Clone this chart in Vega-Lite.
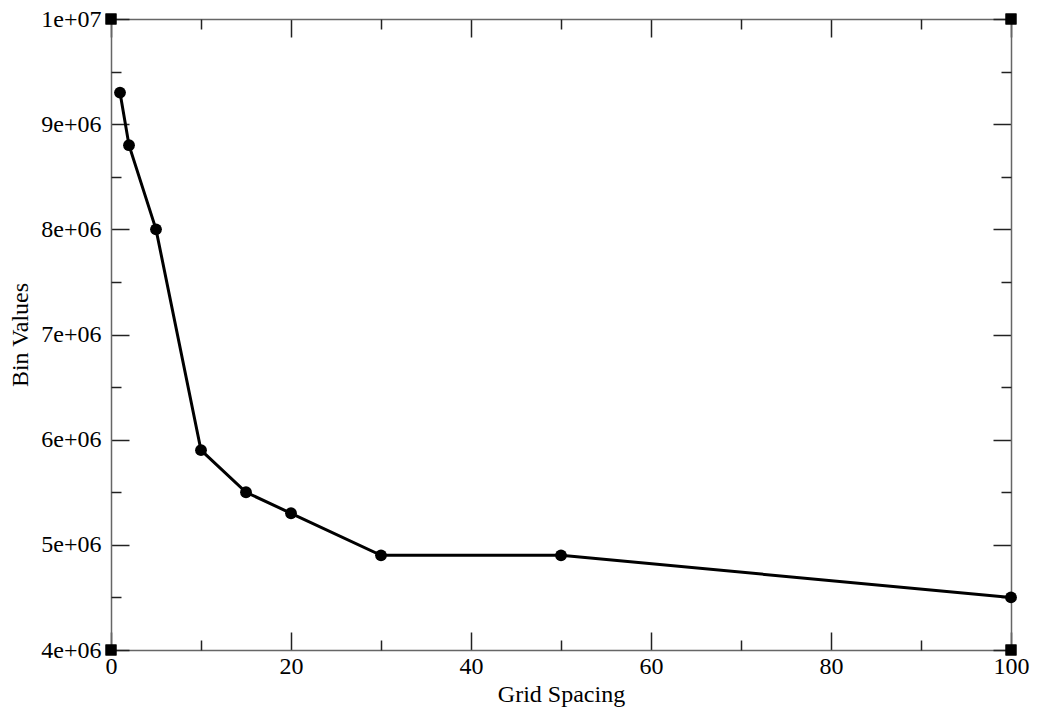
{
  "$schema": "https://vega.github.io/schema/vega-lite/v6.json",
  "width": 900,
  "height": 631,
  "autosize": {"type": "none"},
  "padding": {"left": 111, "top": 19, "right": 28, "bottom": 67},
  "background": "white",
  "config": {
    "view": {"stroke": null},
    "font": "Liberation Serif",
    "axis": {
      "grid": false,
      "domainColor": "#666666",
      "domainWidth": 1.5,
      "tickColor": "#222222",
      "tickWidth": 1.5,
      "labelFont": "Liberation Serif",
      "titleFont": "Liberation Serif",
      "labelFontSize": 24,
      "titleFontSize": 24,
      "labelColor": "#000000",
      "titleColor": "#000000",
      "titleFontWeight": "normal"
    }
  },
  "datasets": {
    "series": [
      {"spacing": 1, "bins": 9300000},
      {"spacing": 2, "bins": 8800000},
      {"spacing": 5, "bins": 8000000},
      {"spacing": 10, "bins": 5900000},
      {"spacing": 15, "bins": 5500000},
      {"spacing": 20, "bins": 5300000},
      {"spacing": 30, "bins": 4900000},
      {"spacing": 50, "bins": 4900000},
      {"spacing": 100, "bins": 4500000}
    ],
    "corners": [
      {"spacing": 0, "bins": 4000000},
      {"spacing": 0, "bins": 10000000},
      {"spacing": 100, "bins": 4000000},
      {"spacing": 100, "bins": 10000000}
    ]
  },
  "layer": [
    {
      "data": {"name": "series"},
      "mark": {"type": "line", "color": "black", "strokeWidth": 3},
      "encoding": {
        "x": {
          "field": "spacing", "type": "quantitative",
          "scale": {"domain": [0, 100], "nice": false, "zero": false},
          "axis": {"orient": "bottom", "values": [0, 20, 40, 60, 80, 100], "tickSize": -18, "labelPadding": 22, "title": "Grid Spacing", "titlePadding": 4, "labelFlush": false, "labelOverlap": false, "labelFont": "Liberation Serif", "labelFontSize": 24, "titleFont": "Liberation Serif"}
        },
        "y": {
          "field": "bins", "type": "quantitative",
          "scale": {"domain": [4000000, 10000000], "nice": false, "zero": false},
          "axis": {"orient": "left", "values": [4000000, 5000000, 6000000, 7000000, 8000000, 9000000, 10000000], "tickSize": -18, "labelPadding": 28, "title": "Bin Values", "titlePadding": 8, "labelFlush": false, "labelOverlap": false, "labelFont": "Liberation Serif", "labelFontSize": 24, "titleFont": "Liberation Serif",
            "labelExpr": "datum.value >= 10000000 ? '1e+07' : format(datum.value / 1000000, 'd') + 'e+06'"}
        }
      }
    },
    {
      "data": {"name": "series"},
      "mark": {"type": "point", "filled": true, "color": "black", "opacity": 1, "size": 140, "shape": "circle"},
      "encoding": {
        "x": {
          "field": "spacing", "type": "quantitative",
          "axis": {"orient": "bottom", "values": [10, 30, 50, 70, 90], "tickSize": -10, "labels": false, "domain": false, "title": null}
        },
        "y": {
          "field": "bins", "type": "quantitative",
          "axis": {"orient": "left", "values": [4500000, 5500000, 6500000, 7500000, 8500000, 9500000], "tickSize": -10, "labels": false, "domain": false, "title": null}
        }
      }
    },
    {
      "data": {"name": "corners"},
      "mark": {"type": "point", "filled": true, "color": "black", "opacity": 1, "size": 121, "shape": "square"},
      "encoding": {
        "x": {
          "field": "spacing", "type": "quantitative",
          "axis": {"orient": "top", "values": [0, 20, 40, 60, 80, 100], "tickSize": -18, "labels": false, "title": null}
        },
        "y": {
          "field": "bins", "type": "quantitative",
          "axis": {"orient": "right", "values": [4000000, 5000000, 6000000, 7000000, 8000000, 9000000, 10000000], "tickSize": -18, "labels": false, "title": null}
        }
      }
    },
    {
      "data": {"name": "corners"},
      "mark": {"type": "point", "filled": true, "color": "black", "opacity": 1, "size": 121, "shape": "square"},
      "encoding": {
        "x": {
          "field": "spacing", "type": "quantitative",
          "axis": {"orient": "top", "values": [10, 30, 50, 70, 90], "tickSize": -10, "labels": false, "domain": false, "title": null}
        },
        "y": {
          "field": "bins", "type": "quantitative",
          "axis": {"orient": "right", "values": [4500000, 5500000, 6500000, 7500000, 8500000, 9500000], "tickSize": -10, "labels": false, "domain": false, "title": null}
        }
      }
    }
  ],
  "resolve": {"axis": {"x": "independent", "y": "independent"}}
}
